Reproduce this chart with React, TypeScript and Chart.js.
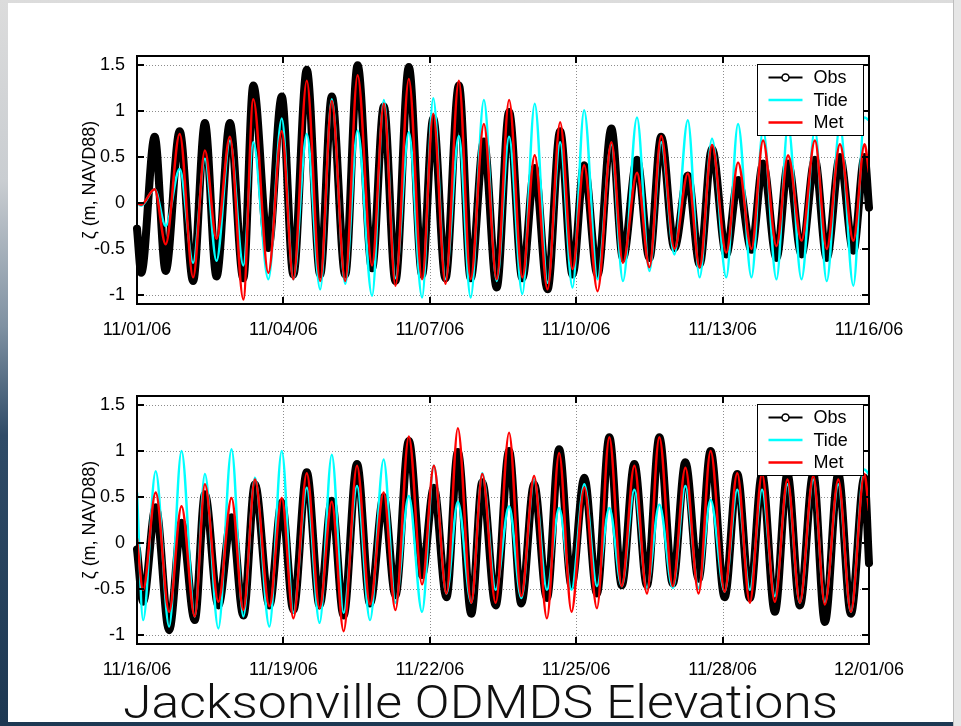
import React, { useEffect, useRef } from "react";
import { Chart, registerables } from "chart.js";
Chart.register(...registerables);

const TITLE = "Jacksonville ODMDS Elevations";
const Y_LABEL = "ζ (m, NAVD88)";
const SERIES_NAMES = ["Obs", "Tide", "Met"];

const X_TICK_HOURS = [0, 72, 144, 216, 288, 360];
const TOP_TICK_LABELS = ["11/01/06", "11/04/06", "11/07/06", "11/10/06", "11/13/06", "11/16/06"];
const BOT_TICK_LABELS = ["11/16/06", "11/19/06", "11/22/06", "11/25/06", "11/28/06", "12/01/06"];
const Y_TICKS = [-1, -0.5, 0, 0.5, 1, 1.5];

// Top panel: hours since 11/01/06 00:00 of successive highs / lows
const TOP_HOURS = [
  0, 2.1, 8.7, 14.1, 21.0, 27.6, 33.4, 39.1, 45.7, 52.3,
  57.2, 64.6, 71.2, 76.9, 83.5, 90.1, 95.8, 102.4, 108.5, 115.6,
  121.4, 127.1, 133.7, 140.2, 145.7, 151.7, 158.3, 164.1, 170.6, 176.9,
  183.0, 189.5, 195.6, 201.9, 208.1, 214.2, 219.9, 226.5, 233.3, 239.0,
  245.9, 252.0, 257.8, 264.3, 270.9, 276.7, 282.8, 289.8, 295.6, 302.2,
  307.9, 314.5, 320.2, 326.8, 333.4, 339.2, 345.7, 352.3, 357.8, 360,
];
const TOP_OBS = [
  -0.28, -0.76, 0.72, -0.74, 0.78, -0.85, 0.87, -0.80, 0.87, -0.82,
  1.28, -0.49, 1.16, -0.78, 1.45, -0.78, 1.16, -0.78, 1.50, -0.71,
  1.05, -0.85, 1.48, -0.78, 0.92, -0.82, 1.28, -0.82, 0.67, -0.92,
  0.99, -0.82, 0.38, -0.94, 0.78, -0.78, 0.41, -0.78, 0.81, -0.60,
  0.47, -0.60, 0.72, -0.49, 0.30, -0.67, 0.59, -0.56, 0.25, -0.51,
  0.43, -0.60, 0.43, -0.56, 0.47, -0.60, 0.50, -0.52, 0.50, -0.05,
];
const TOP_TIDE = [
  0.0, -0.03, 0.15, -0.25, 0.37, -0.65, 0.48, -0.63, 0.68, -0.68,
  0.66, -0.83, 0.92, -0.83, 0.75, -0.94, 1.13, -0.88, 0.79, -1.01,
  1.12, -0.82, 0.77, -1.03, 1.14, -0.83, 0.73, -1.03, 1.12, -0.85,
  0.72, -0.99, 1.08, -0.87, 0.66, -0.92, 1.01, -0.83, 0.64, -0.85,
  0.93, -0.74, 0.66, -0.56, 0.90, -0.81, 0.70, -0.81, 0.86, -0.81,
  0.80, -0.83, 0.85, -0.83, 0.80, -0.85, 0.85, -0.90, 0.93, 0.90,
];
const TOP_MET = [
  0.0, -0.02, 0.15, -0.45, 0.75, -0.81, 0.57, -0.39, 0.72, -1.05,
  1.13, -0.76, 0.78, -0.83, 1.33, -0.85, 1.11, -0.85, 1.39, -0.68,
  1.08, -0.90, 1.35, -0.83, 0.97, -0.88, 1.33, -0.83, 0.86, -0.83,
  1.12, -0.81, 0.52, -0.94, 0.88, -0.72, 0.41, -0.96, 0.66, -0.65,
  0.33, -0.70, 0.73, -0.50, 0.32, -0.70, 0.63, -0.54, 0.44, -0.50,
  0.68, -0.47, 0.52, -0.41, 0.68, -0.50, 0.64, -0.41, 0.64, 0.33,
];

// Bottom panel: hours since 11/16/06 00:00
const BOT_HOURS = [
  0, 3.0, 9.2, 15.8, 21.9, 28.4, 33.4, 40.0, 46.5, 52.3,
  58.0, 65.1, 71.2, 76.9, 83.5, 89.8, 95.8, 101.6, 108.2, 114.6,
  121.3, 127.1, 133.7, 140.2, 146.0, 152.2, 157.8, 164.4, 169.8, 176.4,
  183.0, 189.0, 195.3, 201.6, 207.6, 213.7, 220.0, 226.2, 232.3, 238.4,
  244.6, 250.8, 256.9, 263.5, 269.7, 276.2, 282.1, 289.0, 295.2, 301.4,
  307.4, 313.7, 319.9, 326.0, 332.6, 338.3, 344.9, 351.1, 357.7, 360,
];
const BOT_OBS = [
  -0.07, -0.64, 0.39, -0.95, 0.22, -0.84, 0.53, -0.68, 0.28, -0.79,
  0.64, -0.68, 0.44, -0.73, 0.77, -0.68, 0.46, -0.79, 0.86, -0.66,
  0.50, -0.57, 1.11, -0.35, 0.60, -0.59, 0.99, -0.77, 0.66, -0.68,
  1.00, -0.66, 0.64, -0.60, 1.02, -0.46, 0.71, -0.55, 1.15, -0.46,
  0.86, -0.46, 1.15, -0.44, 0.88, -0.39, 1.00, -0.59, 0.75, -0.60,
  0.75, -0.75, 0.75, -0.68, 0.75, -0.86, 0.75, -0.77, 0.71, -0.22,
];
const BOT_TIDE = [
  0.55, -0.84, 0.78, -0.91, 1.00, -0.80, 0.75, -0.93, 1.02, -0.80,
  0.71, -0.91, 1.00, -0.76, 0.60, -0.87, 0.96, -0.76, 0.62, -0.84,
  0.91, -0.65, 0.51, -0.75, 0.84, -0.55, 0.45, -0.65, 0.76, -0.51,
  0.40, -0.60, 0.69, -0.51, 0.38, -0.51, 0.64, -0.47, 0.38, -0.47,
  0.58, -0.49, 0.42, -0.49, 0.62, -0.49, 0.47, -0.53, 0.58, -0.51,
  0.58, -0.58, 0.64, -0.65, 0.69, -0.65, 0.64, -0.75, 0.80, 0.75,
];
const BOT_MET = [
  0.05, -0.51, 0.55, -0.75, 0.40, -0.80, 0.64, -0.64, 0.49, -0.73,
  0.69, -0.69, 0.49, -0.82, 0.76, -0.71, 0.45, -0.96, 0.84, -0.67,
  0.55, -0.73, 1.16, -0.45, 0.84, -0.55, 1.25, -0.65, 0.75, -0.65,
  1.20, -0.58, 0.73, -0.82, 0.98, -0.75, 0.60, -0.71, 1.15, -0.47,
  0.84, -0.55, 1.15, -0.47, 0.82, -0.55, 1.00, -0.53, 0.76, -0.65,
  0.75, -0.64, 0.69, -0.65, 0.73, -0.67, 0.69, -0.75, 0.75, 0.35,
];

const FONT = "'Liberation Sans', Arial, Helvetica, sans-serif";

const framePlugin = {
  id: "matlabFrame",
  beforeDatasetsDraw(chart: any) {
    const { ctx, chartArea: a, scales } = chart;
    const x = scales.x, y = scales.y;
    ctx.save();
    ctx.strokeStyle = "#8c8c8c";
    ctx.lineWidth = 1;
    ctx.setLineDash([1, 2]);
    x.ticks.forEach((t: any) => {
      const px = Math.round(x.getPixelForValue(t.value)) + 0.5;
      if (px > a.left + 2 && px < a.right - 2) {
        ctx.beginPath(); ctx.moveTo(px, a.top); ctx.lineTo(px, a.bottom); ctx.stroke();
      }
    });
    y.ticks.forEach((t: any) => {
      const py = Math.round(y.getPixelForValue(t.value)) + 0.5;
      if (py > a.top + 2 && py < a.bottom - 2) {
        ctx.beginPath(); ctx.moveTo(a.left, py); ctx.lineTo(a.right, py); ctx.stroke();
      }
    });
    ctx.restore();
  },
  afterDatasetsDraw(chart: any) {
    const { ctx, chartArea: a, scales } = chart;
    const x = scales.x, y = scales.y;
    ctx.save();
    ctx.strokeStyle = "#000";
    ctx.lineWidth = 2;
    ctx.strokeRect(a.left, a.top, a.right - a.left, a.bottom - a.top);
    const tl = 7;
    ctx.lineWidth = 2;
    x.ticks.forEach((t: any) => {
      const px = Math.round(x.getPixelForValue(t.value));
      ctx.beginPath(); ctx.moveTo(px, a.bottom); ctx.lineTo(px, a.bottom - tl); ctx.stroke();
      ctx.beginPath(); ctx.moveTo(px, a.top); ctx.lineTo(px, a.top + tl); ctx.stroke();
    });
    y.ticks.forEach((t: any) => {
      const py = Math.round(y.getPixelForValue(t.value));
      ctx.beginPath(); ctx.moveTo(a.left, py); ctx.lineTo(a.left + tl, py); ctx.stroke();
      ctx.beginPath(); ctx.moveTo(a.right, py); ctx.lineTo(a.right - tl, py); ctx.stroke();
    });
    ctx.restore();
  },
  afterDraw(chart: any) {
    const { ctx, chartArea: a } = chart;
    const ds = chart.data.datasets;
    const bx = Math.round(a.right - 112) + 0.5;
    const by = Math.round(a.top + 8) + 0.5;
    const bw = 106, bh = 71;
    ctx.save();
    ctx.fillStyle = "#fff";
    ctx.fillRect(bx, by, bw, bh);
    ctx.strokeStyle = "#000";
    ctx.lineWidth = 1;
    ctx.strokeRect(bx, by, bw, bh);
    ctx.font = `18px ${FONT}`;
    ctx.textBaseline = "middle";
    ctx.textAlign = "left";
    ds.forEach((d: any, i: number) => {
      const cy = by + 13 + i * 22.5;
      ctx.strokeStyle = d.borderColor;
      ctx.lineWidth = i === 0 ? 2 : 2.5;
      ctx.beginPath(); ctx.moveTo(bx + 11, cy); ctx.lineTo(bx + 45, cy); ctx.stroke();
      if (i === 0) {
        ctx.fillStyle = "#fff";
        ctx.lineWidth = 1.5;
        ctx.beginPath(); ctx.arc(bx + 28, cy, 3.5, 0, Math.PI * 2); ctx.fill(); ctx.stroke();
      }
      ctx.fillStyle = "#000";
      ctx.fillText(d.label, bx + 56, cy + 1);
    });
    ctx.restore();
  },
};

function makeConfig(hours: number[], obs: number[], tide: number[], met: number[], labels: string[]) {
  const pts = (arr: number[]) => hours.map((h, i) => ({ x: h, y: arr[i] }));
  return {
    type: "line",
    data: {
      datasets: [
        {
          label: SERIES_NAMES[0], data: pts(obs), borderColor: "#000000", borderWidth: 8,
          pointRadius: 0, cubicInterpolationMode: "monotone", order: 2,
          borderJoinStyle: "round", borderCapStyle: "round",
          clip: { left: 4, right: 4, top: 0, bottom: 0 },
        },
        {
          label: SERIES_NAMES[1], data: pts(tide), borderColor: "#00FFFF", borderWidth: 2.5,
          pointRadius: 0, cubicInterpolationMode: "monotone", order: 1,
        },
        {
          label: SERIES_NAMES[2], data: pts(met), borderColor: "#FF0000", borderWidth: 2.5,
          pointRadius: 0, cubicInterpolationMode: "monotone", order: 0,
        },
      ],
    },
    options: {
      responsive: false,
      animation: false,
      devicePixelRatio: 1,
      events: [],
      layout: { padding: { left: 75, top: 56, right: 92, bottom: 0 } },
      plugins: { legend: { display: false }, tooltip: { enabled: false } },
      scales: {
        x: {
          type: "linear", min: 0, max: 360,
          grid: { display: false }, border: { display: false },
          afterBuildTicks: (s: any) => { s.ticks = X_TICK_HOURS.map((v) => ({ value: v })); },
          afterFit: (s: any) => { s.height = 36; },
          ticks: {
            callback: (_v: any, i: number) => labels[i],
            font: { family: FONT, size: 18 }, color: "#000", padding: 7,
            maxRotation: 0, autoSkip: false,
          },
        },
        y: {
          type: "linear", min: -1.1, max: 1.6,
          grid: { display: false }, border: { display: false },
          afterBuildTicks: (s: any) => { s.ticks = Y_TICKS.map((v) => ({ value: v })); },
          afterFit: (s: any) => { s.width = 62; },
          ticks: {
            callback: (v: any) => String(v),
            font: { family: FONT, size: 18 }, color: "#000", padding: 4,
          },
          title: {
            display: true, text: Y_LABEL, color: "#000",
            font: { family: FONT, size: 18 }, padding: { top: 4, bottom: 0 },
          },
        },
      },
    },
    plugins: [framePlugin],
  } as any;
}

export default function App() {
  const topRef = useRef<HTMLCanvasElement>(null);
  const botRef = useRef<HTMLCanvasElement>(null);
  const titleRef = useRef<HTMLDivElement>(null);

  useEffect(() => {
    document.body.style.margin = "0";
    const c1 = new Chart(topRef.current as HTMLCanvasElement, makeConfig(TOP_HOURS, TOP_OBS, TOP_TIDE, TOP_MET, TOP_TICK_LABELS));
    const c2 = new Chart(botRef.current as HTMLCanvasElement, makeConfig(BOT_HOURS, BOT_OBS, BOT_TIDE, BOT_MET, BOT_TICK_LABELS));
    const mc = document.createElement("canvas").getContext("2d");
    if (mc && titleRef.current) {
      mc.font = "300 46px Roboto";
      const w = mc.measureText(TITLE).width;
      if (w > 0) titleRef.current.style.transform = `scaleX(${715 / w})`;
    }
    return () => { c1.destroy(); c2.destroy(); };
  }, []);

  return (
    <div style={{
      position: "relative", width: 961, height: 726, overflow: "hidden",
      background: "linear-gradient(180deg, #dcdcdc 0%, #c9cdd1 25%, #7f91a2 45%, #2f4b67 60%, #1d3852 100%)",
    }}>
      <div style={{ position: "absolute", left: 953, top: 0, width: 8, height: 726, background: "#e6e6e6", borderLeft: "1px solid #bdbdbd" }} />
      <div style={{ position: "absolute", left: 8, top: 3, width: 945, height: 719, background: "#ffffff" }} />
      <canvas ref={topRef} width={961} height={340} style={{ position: "absolute", left: 0, top: 0 }} />
      <canvas ref={botRef} width={961} height={340} style={{ position: "absolute", left: 0, top: 340 }} />
      <div ref={titleRef} style={{
        position: "absolute", left: 123, top: 679, whiteSpace: "nowrap",
        font: "300 46px Roboto", lineHeight: 1, color: "#111", transformOrigin: "left top",
      }}>{TITLE}</div>
    </div>
  );
}
